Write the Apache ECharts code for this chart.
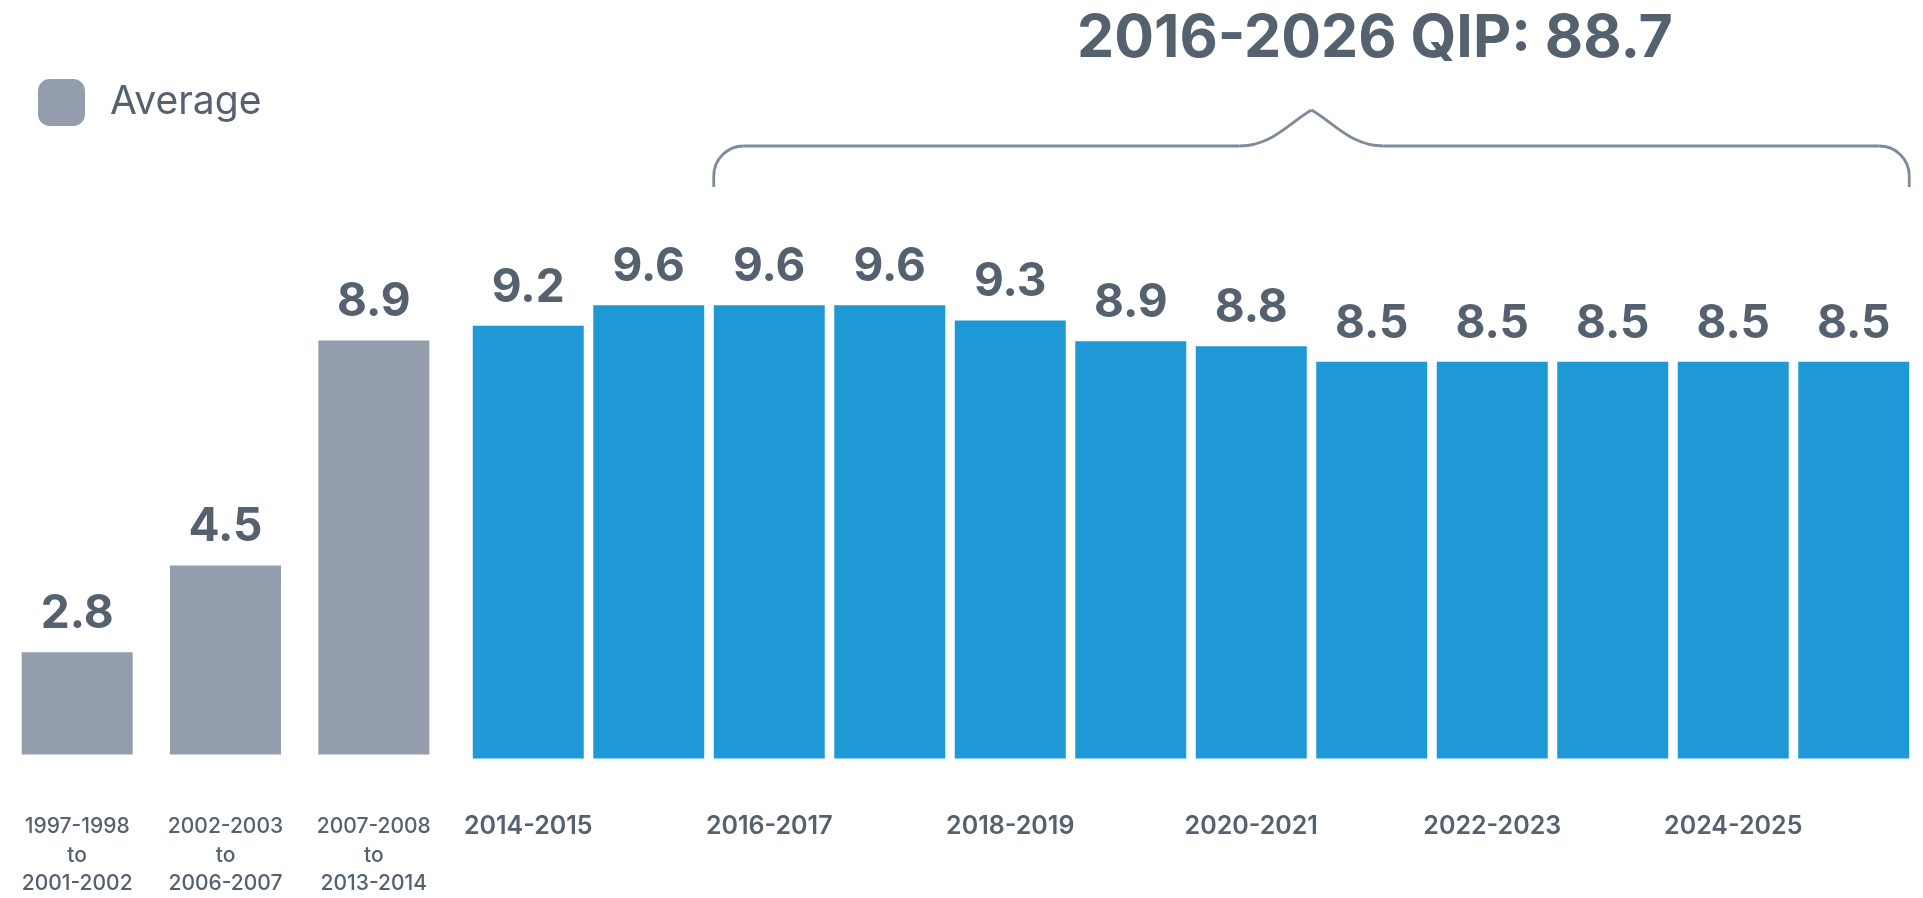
<!DOCTYPE html>
<html>
<head>
<meta charset="utf-8">
<script src="https://cdn.jsdelivr.net/npm/echarts@6/dist/echarts.min.js"></script>
<style>
html,body{margin:0;padding:0;background:#fff;}
#chart{width:1923px;height:898px;}
</style>
</head>
<body>
<div id="chart"></div>
<script>
// ---- data ----
const avgCategories = ['1997-1998\nto\n2001-2002', '2002-2003\nto\n2006-2007', '2007-2008\nto\n2013-2014'];
const avgValues = [2.8, 4.5, 8.9];
const yearCategories = ['2014-2015','2015-2016','2016-2017','2017-2018','2018-2019','2019-2020','2020-2021','2021-2022','2022-2023','2023-2024','2024-2025','2025-2026'];
const yearValues = [9.2, 9.6, 9.6, 9.6, 9.3, 8.9, 8.8, 8.5, 8.5, 8.5, 8.5, 8.5];
const legendLabel = 'Average';
const headline = '2016-2026 QIP: 88.7';
const bracketFrom = '2016-2017';
const bracketTo = '2025-2026';

const FONT = 'Inter, "Open Sans", sans-serif';
const TEXT = '#55616f';
const GRAY = '#949dab';
const BLUE = '#1e99d5';
const BRACKET = '#7f8999';

const chart = echarts.init(document.getElementById('chart'), null, {renderer: 'canvas'});
const valueLabel = {
  show: true, position: 'top', distance: 15,
  fontFamily: FONT, fontWeight: 'bold', fontSize: 46, color: TEXT
};
const option = {
  animation: false,
  backgroundColor: '#fff',
  legend: {
    data: [legendLabel], left: 33, top: 74,
    itemWidth: 47, itemHeight: 47, icon: 'roundRect',
    itemStyle: {borderRadius: 9},
    textStyle: {fontFamily: FONT, fontSize: 39, color: TEXT, padding: [0, 0, 0, 20]}
  },
  grid: [
    {left: 3, width: 445, top: 249.5, bottom: 139.5, containLabel: false},
    {left: 468, width: 1446, top: 249.5, bottom: 139.5, containLabel: false}
  ],
  xAxis: [
    {type: 'category', gridIndex: 0, data: avgCategories,
     axisLine: {show: false}, axisTick: {show: false},
     axisLabel: {interval: 0, margin: 58, fontFamily: FONT, fontSize: 21, fontWeight: 500, lineHeight: 28.5, color: TEXT, align: 'center'}},
    {type: 'category', gridIndex: 1, data: yearCategories,
     axisLine: {show: false}, axisTick: {show: false},
     axisLabel: {interval: 1, margin: 55, fontFamily: FONT, fontSize: 25, fontWeight: 600, color: TEXT}}
  ],
  yAxis: [
    {type: 'value', gridIndex: 0, min: 0.8, max: 10.68, show: false, splitLine: {show: false}},
    {type: 'value', gridIndex: 1, min: 0.8, max: 10.68, show: false, splitLine: {show: false}}
  ],
  series: [
    {name: legendLabel, type: 'bar', xAxisIndex: 0, yAxisIndex: 0, data: avgValues,
     barWidth: 111, itemStyle: {color: GRAY}, label: valueLabel},
    {name: 'Annual', type: 'bar', xAxisIndex: 1, yAxisIndex: 1, data: yearValues,
     barWidth: 111, itemStyle: {color: BLUE}, label: valueLabel}
  ]
};
chart.setOption(option);

// bracket + headline positioned from the axis
const halfBar = 55.5;
const xl = chart.convertToPixel({xAxisIndex: 1}, bracketFrom) - halfBar;
const xr = chart.convertToPixel({xAxisIndex: 1}, bracketTo) + halfBar;
const xm = (xl + xr) / 2;
const yb = 187, yh = 146, yp = 110, r = 30;
const stroke = {fill: null, stroke: BRACKET, lineWidth: 2.8};
chart.setOption({
  graphic: [
    {type: 'line', shape: {x1: xl, y1: yb, x2: xl, y2: yh + r}, style: stroke},
    {type: 'arc', shape: {cx: xl + r, cy: yh + r, r: r, startAngle: Math.PI, endAngle: Math.PI * 1.5, clockwise: true}, style: stroke},
    {type: 'line', shape: {x1: xl + r, y1: yh, x2: xm - 72, y2: yh}, style: stroke},
    {type: 'bezierCurve', shape: {x1: xm - 72, y1: yh, cpx1: xm - 40, cpy1: yh, cpx2: xm - 24, cpy2: yp + 14, x2: xm, y2: yp}, style: stroke},
    {type: 'bezierCurve', shape: {x1: xm, y1: yp, cpx1: xm + 24, cpy1: yp + 14, cpx2: xm + 40, cpy2: yh, x2: xm + 72, y2: yh}, style: stroke},
    {type: 'line', shape: {x1: xm + 72, y1: yh, x2: xr - r, y2: yh}, style: stroke},
    {type: 'arc', shape: {cx: xr - r, cy: yh + r, r: r, startAngle: Math.PI * 1.5, endAngle: Math.PI * 2, clockwise: true}, style: stroke},
    {type: 'line', shape: {x1: xr, y1: yh + r, x2: xr, y2: yb}, style: stroke},
    {type: 'text', x: 1375, y: 39, style: {text: headline, fontFamily: FONT, fontWeight: 'bold', fontSize: 59, fill: TEXT, align: 'center', verticalAlign: 'middle'}}
  ]
});
</script>
</body>
</html>
